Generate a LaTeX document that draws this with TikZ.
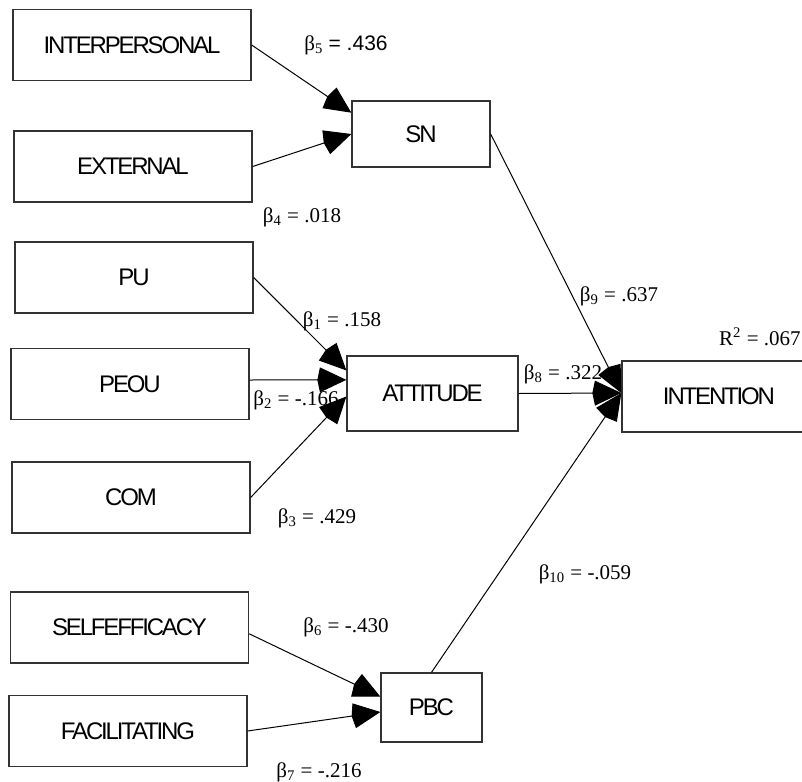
\documentclass[tikz,border=0pt]{standalone}
\usepackage{fontspec}
\setmainfont{Liberation Serif}
\newfontfamily\boxfont{Liberation Sans}[LetterSpace=-9]
\newfontfamily\coeffont{Liberation Sans}
\usetikzlibrary{arrows.meta}

\begin{document}
\begin{tikzpicture}[x=0.5pt,y=-0.5pt,
 var/.style={draw=black!80,line width=0.65pt,inner sep=0pt,
  font=\boxfont\fontsize{12}{14}\selectfont,
  minimum width=119pt,minimum height=35.5pt},
 effect/.style={-{Kite[length=14.5pt,width=12.5pt,inset=1.3pt]},line width=0.5pt},
 coef/.style={inner sep=0pt,font=\fontsize{10.5}{12}\selectfont}]
\useasboundingbox (0,0) rectangle (802,781);

% exogenous constructs
\node[var] (inter) at (132,45) {INTERPERSONAL};
\node[var] (ext) at (133,166.5) {EXTERNAL};
\node[var] (pu) at (134,277.5) {PU};
\node[var] (peou) at (130,384) {PEOU};
\node[var] (com) at (131,497.5) {COM};
\node[var] (self) at (129.5,627.5) {SELFEFFICACY};
\node[var] (fac) at (128,731) {FACILITATING};

% mediators and outcome
\node[var,minimum width=69pt,minimum height=33pt] (sn) at (421,134) {SN};
\node[var,minimum width=85.5pt,minimum height=37.5pt] (att) at (432.5,393.5) {ATTITUDE};
\node[var,minimum width=97pt,minimum height=35.5pt] (int) at (719,396.5) {INTENTION};
\node[var,minimum width=50.5pt,minimum height=34.5pt] (pbc) at (431.5,707.5) {PBC};

% paths
\draw[effect] (inter.east) -- (sn.163);
\draw[effect] (ext.east) -- (sn.west);
\draw[effect] (pu.east) -- (att.165);
\draw[effect] ([yshift=2pt]peou.east) -- (att.171);
\draw[effect] (com.east) -- (att.182);
\draw[effect] (self.-3) -- (pbc.168);
\draw[effect] (fac.east) -- (pbc.185);
\draw[effect] (sn.east) -- ([yshift=1.75pt]int.west);
\draw[effect] (att.east) -- ([yshift=1.75pt]int.west);
\draw[effect] (pbc.north) -- ([yshift=1.75pt]int.west);

% coefficients
\node[coef] (b5) at (346,45) {β\textsubscript{5} {\coeffont = .436}};
\node[coef] (b4) at (302,217) {β\textsubscript{4} = .018};
\node[coef] (b1) at (342,321) {β\textsubscript{1} = .158};
\node[coef] (b2) at (296,400) {β\textsubscript{2} = -.166};
\node[coef] (b3) at (317,518) {β\textsubscript{3} = .429};
\node[coef] (b8) at (563,374) {β\textsubscript{8} = .322};
\node[coef] (b9) at (619,296) {β\textsubscript{9} = .637};
\node[coef] (b10) at (585,574) {β\textsubscript{10} = -.059};
\node[coef] (b6) at (346,627) {β\textsubscript{6} = -.430};
\node[coef] (b7) at (319,772) {β\textsubscript{7} = -.216};
\node[coef,anchor=east] (r2) at (801,337) {R\textsuperscript{2} = .067};
\end{tikzpicture}
\end{document}
